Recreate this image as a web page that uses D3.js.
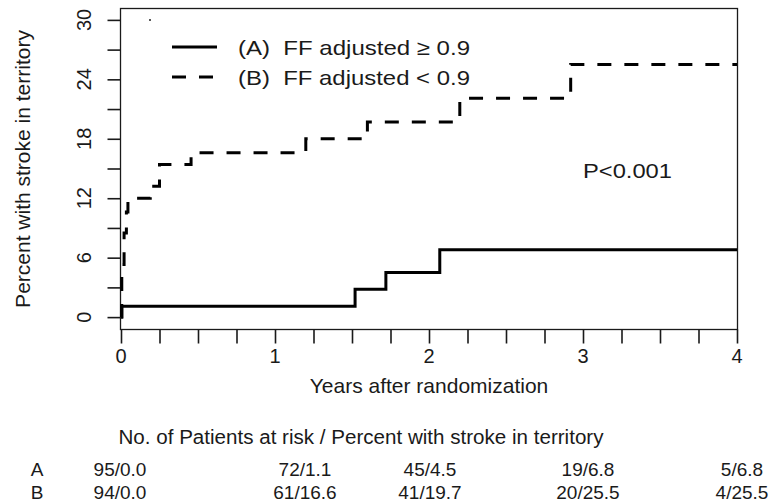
<!DOCTYPE html>
<html><head><meta charset="utf-8">
<script src="https://cdn.jsdelivr.net/npm/d3@7"></script>
<style>
html,body{margin:0;padding:0;background:#fff;}
svg{display:block;font-family:"Liberation Sans",Arial,sans-serif;}
</style></head>
<body><svg id="c" width="769" height="504"></svg>
<script>
// ---- data ----
const seriesNames = ["(A)  FF adjusted \u2265 0.9", "(B)  FF adjusted < 0.9"];
const timesA  = [0, 0.005, 1.52, 1.72, 2.07];
const valuesA = [0, 1.1, 2.8, 4.5, 6.8];
const timesB  = [0, 0.005, 0.02, 0.035, 0.045, 0.19, 0.25, 0.455, 1.20, 1.60, 2.20, 2.92];
const valuesB = [0, 5.3, 8.5, 10.6, 12.0, 13.2, 15.4, 16.6, 18.0, 19.7, 22.1, 25.5];
const endTime = 4;
const xTicksMajor = [0, 1, 2, 3, 4];
const xTicksMinor = d3.range(0, 4.001, 0.25);
const yTicksMajor = [0, 6, 12, 18, 24, 30];
const yTicksMinor = [0, 3, 6, 9, 12, 15, 18, 21, 24, 27, 30];
const riskRows = ["A", "B"];
const riskA = ["95/0.0", "72/1.1", "45/4.5", "19/6.8", "5/6.8"];
const riskB = ["94/0.0", "61/16.6", "41/19.7", "20/25.5", "4/25.5"];
const pText = "P<0.001";

// ---- layout ----
const svg = d3.select("#c");
const x = d3.scaleLinear().domain([0, 4]).range([121, 737]);
const y = d3.scaleLinear().domain([-1.2, 31.2]).range([329, 8]);
const ink = "#1a1a1a";

// frame
svg.append("rect").attr("x", 120.5).attr("y", 8.5).attr("width", 737 - 120).attr("height", 329 - 8)
  .attr("fill", "none").attr("stroke", ink).attr("stroke-width", 1.3);

// x axis
const xg = svg.append("g").attr("transform", "translate(0,329.5)");
xg.call(d3.axisBottom(x).tickValues(xTicksMinor).tickSize(14).tickFormat(""))
  .call(g => g.select(".domain").remove());
xg.selectAll("line").attr("stroke", ink).attr("stroke-width", 1.6);
xg.selectAll("text").remove();
svg.append("g").selectAll("text").data(xTicksMajor).join("text")
  .attr("x", d => x(d)).attr("y", 363).attr("text-anchor", "middle")
  .attr("font-size", 20).attr("fill", ink).text(d => d);

// y axis
const yg = svg.append("g").attr("transform", "translate(120.5,0)");
yg.call(d3.axisLeft(y).tickValues(yTicksMinor).tickSize(13).tickFormat(""))
  .call(g => g.select(".domain").remove());
yg.selectAll("line").attr("stroke", ink).attr("stroke-width", 1.6);
svg.append("g").selectAll("text").data(yTicksMajor).join("text")
  .attr("transform", d => `translate(91,${y(d)}) rotate(-90)`)
  .attr("text-anchor", "middle").attr("font-size", 20).attr("fill", ink).text(d => d);

// axis titles
svg.append("text").attr("x", x(2)).attr("y", 393).attr("text-anchor", "middle")
  .attr("font-size", 21).attr("fill", ink).text("Years after randomization");
svg.append("text").attr("transform", "translate(30,169) rotate(-90)").attr("text-anchor", "middle")
  .attr("font-size", 21).attr("fill", ink).text("Percent with stroke in territory");

// curves
const line = d3.line().x(d => x(d[0])).y(d => y(d[1])).curve(d3.curveStepAfter);
const ptsA = timesA.map((t, i) => [t, valuesA[i]]).concat([[endTime, valuesA[valuesA.length - 1]]]);
const ptsB = timesB.map((t, i) => [t, valuesB[i]]).concat([[endTime, valuesB[valuesB.length - 1]]]);
svg.append("path").attr("d", line(ptsA)).attr("fill", "none").attr("stroke", "#000").attr("stroke-width", 3);
svg.append("path").attr("d", line(ptsB)).attr("fill", "none").attr("stroke", "#000").attr("stroke-width", 3)
  .attr("stroke-dasharray", "14,13");

// stray dot
svg.append("circle").attr("cx", 150).attr("cy", 20).attr("r", 1).attr("fill", "#222");

// legend
const leg = svg.append("g");
[0, 1].forEach(i => {
  const ly = 47 + i * 30;
  leg.append("line").attr("x1", 172).attr("x2", 217).attr("y1", ly).attr("y2", ly)
    .attr("stroke", "#000").attr("stroke-width", 3).attr("stroke-dasharray", i ? "14,13" : null);
  leg.append("text").attr("x", 238).attr("y", ly + 7.5).attr("font-size", 21).attr("fill", ink)
    .attr("xml:space", "preserve").style("white-space", "pre")
    .attr("textLength", 232).attr("lengthAdjust", "spacingAndGlyphs").text(seriesNames[i]);
});

// p-value
svg.append("text").attr("x", 583).attr("y", 178)
  .attr("font-size", 21).attr("fill", ink)
  .attr("textLength", 89).attr("lengthAdjust", "spacingAndGlyphs").text(pText);

// risk table
svg.append("text").attr("x", 361).attr("y", 444).attr("text-anchor", "middle")
  .attr("font-size", 20).attr("fill", ink)
  .attr("textLength", 485).attr("lengthAdjust", "spacingAndGlyphs")
  .text("No. of Patients at risk / Percent with stroke in territory");
const colX = [120, 305, 430, 588, 742];
[riskA, riskB].forEach((row, r) => {
  const ry = 476 + r * 23;
  svg.append("text").attr("x", 37).attr("y", ry).attr("text-anchor", "middle")
    .attr("font-size", 19).attr("fill", ink).text(riskRows[r]);
  svg.append("g").selectAll("text").data(row).join("text")
    .attr("x", (d, i) => colX[i]).attr("y", ry).attr("text-anchor", "middle")
    .attr("font-size", 19).attr("fill", ink).text(d => d);
});
</script></body></html>
